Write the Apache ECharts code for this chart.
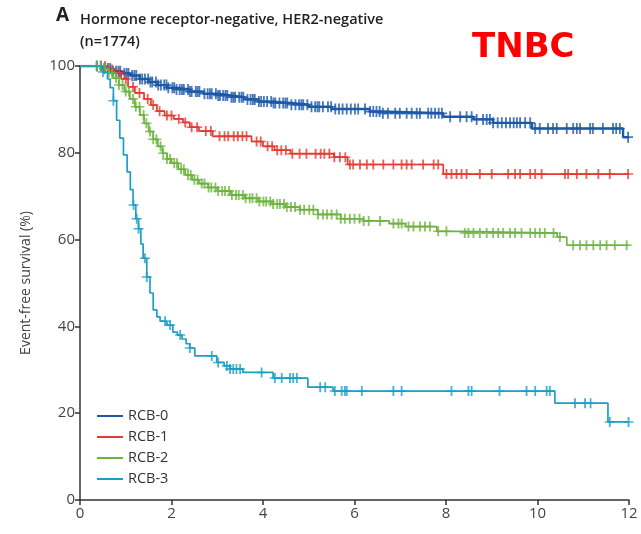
<!DOCTYPE html>
<html>
<head>
<meta charset="utf-8">
<script src="https://cdn.jsdelivr.net/npm/echarts@6/dist/echarts.min.js"></script>
<style>
  html, body { margin: 0; padding: 0; background: #fff; }
  #km { width: 641px; height: 534px; }
</style>
</head>
<body>
<div id="km"></div>
<script>
// group names + colours
var groups = ['RCB-0', 'RCB-1', 'RCB-2', 'RCB-3'];
var colors = ['#1b59a8', '#e53a2f', '#6cb33f', '#1c9fc6'];

// step curves [years, survival %]
var rcb0Curve = [[0,100],[0.35,100],[0.5,99.4],[0.7,98.8],[0.9,98.3],[1.1,97.8],[1.3,97.0],[1.5,96.3],[1.7,95.6],[1.9,95.0],
  [2.1,94.6],[2.4,94.1],[2.7,93.6],[3.0,93.2],[3.3,92.8],[3.6,92.3],[3.9,91.8],[4.2,91.5],[4.6,91.1],[5.0,90.6],[5.5,90.1],
  [6.34,89.5],[6.56,89.1],[7.94,88.3],[8.6,87.7],[9.03,86.9],[9.88,85.6],[11.87,83.6],[12,83.6]];
var rcb1Curve = [[0,100],[0.45,100],[0.6,99.2],[0.75,98.4],[0.9,97.0],[1.05,95.2],[1.2,93.8],[1.4,92.4],[1.55,91.0],[1.68,89.6],
  [1.85,88.6],[2.05,87.8],[2.25,87.0],[2.4,85.9],[2.6,85.0],[2.9,83.8],[3.75,82.6],[4.0,81.5],[4.25,80.6],[4.6,79.8],[5.55,79.0],
  [5.85,77.3],[7.94,75.1],[12,75.1]];
var rcb2Curve = [[0,100],[0.4,100],[0.5,99.3],[0.6,98.5],[0.73,97.2],[0.85,95.6],[0.97,94.1],[1.09,92.4],[1.2,90.6],[1.31,88.7],
  [1.4,86.8],[1.5,84.9],[1.6,83.1],[1.7,81.5],[1.8,79.9],[1.9,78.6],[2.0,77.6],[2.15,76.2],[2.3,74.9],[2.45,73.8],[2.6,72.9],
  [2.8,72.0],[3.0,71.2],[3.3,70.3],[3.6,69.5],[3.9,68.8],[4.2,68.2],[4.5,67.5],[4.8,66.9],[5.2,65.8],[5.7,64.8],[6.2,64.3],
  [6.76,63.7],[7.12,63.0],[7.8,61.9],[8.37,61.5],[10.43,60.6],[10.64,58.7],[12,58.7]];
var rcb3Curve = [[0,100],[0.4,100],[0.5,98.6],[0.6,97],[0.66,95],[0.73,92],[0.8,87.5],[0.87,83.4],[0.95,79.5],[1.03,75.6],
  [1.1,71.5],[1.16,68],[1.22,64.8],[1.28,62.5],[1.33,59],[1.38,55.7],[1.46,51.4],[1.53,47.7],[1.6,43.8],[1.68,42.2],[1.75,41.2],
  [1.9,40.3],[2.03,38.7],[2.13,38.0],[2.23,37.1],[2.32,36.0],[2.4,35.0],[2.51,33.2],[2.9,33.2],[2.99,31.7],[3.15,30.9],
  [3.28,30.2],[3.56,29.4],[4.22,28.1],[4.98,26.0],[5.53,25.1],[10.38,22.3],[11.54,18.0],[12,18.0]];

// censoring times (years)
var rcb0Censor = [0.37,0.46,0.53,0.61,0.66,0.72,0.79,0.84,0.88,0.97,1.02,1.06,1.14,1.19,1.23,1.31,1.36,1.42,1.49,1.54,1.58,
  1.66,1.71,1.77,1.84,1.89,1.93,2.02,2.06,2.11,2.18,2.23,2.27,2.36,2.4,2.44,2.53,2.57,2.61,2.72,2.79,2.84,2.88,2.97,3.02,
  3.06,3.13,3.18,3.22,3.31,3.35,3.39,3.48,3.53,3.57,3.66,3.73,3.78,3.82,3.91,3.96,4.02,4.09,4.18,4.23,4.27,4.36,4.44,4.49,
  4.53,4.62,4.71,4.79,4.84,4.88,4.97,5.06,5.14,5.19,5.23,5.31,5.42,5.49,5.58,5.66,5.74,5.83,5.92,6.01,6.08,6.23,6.34,
  6.41,6.48,6.55,6.62,6.73,6.89,6.99,7.14,7.25,7.36,7.43,7.61,7.68,7.76,7.84,7.91,8.09,8.31,8.45,8.56,8.67,8.81,8.89,8.96,
  9.03,9.13,9.22,9.31,9.4,9.48,9.55,9.62,9.73,9.84,9.95,10.05,10.23,10.34,10.42,10.64,10.78,10.86,10.93,11.15,11.21,11.43,
  11.65,11.72,11.8,11.98];
var rcb1Censor = [0.55,0.7,0.86,1.0,1.16,1.3,1.48,1.6,1.74,1.9,2.0,2.16,2.3,2.44,2.56,2.75,2.86,3.05,3.16,3.24,3.36,3.45,3.55,
  3.64,3.86,3.95,4.1,4.2,4.31,4.4,4.5,4.64,4.8,4.95,5.15,5.26,5.34,5.45,5.56,5.68,5.8,5.9,5.97,6.12,6.27,6.41,6.63,6.85,
  7.03,7.14,7.25,7.5,7.73,7.83,8.01,8.12,8.23,8.34,8.45,8.74,9.0,9.36,9.51,9.62,9.84,9.95,10.09,10.6,10.67,10.86,11.07,
  11.33,11.58,11.98];
var rcb2Censor = [0.36,0.45,0.54,0.63,0.7,0.79,0.85,0.93,1.0,1.07,1.16,1.22,1.3,1.39,1.45,1.53,1.6,1.67,1.76,1.82,1.9,1.97,
  2.06,2.12,2.21,2.27,2.36,2.42,2.5,2.57,2.66,2.72,2.81,2.87,2.96,3.02,3.11,3.17,3.26,3.32,3.41,3.47,3.56,3.62,3.71,3.77,
  3.86,3.92,4.01,4.07,4.16,4.22,4.31,4.37,4.46,4.52,4.61,4.7,4.81,4.9,5.01,5.1,5.2,5.31,5.4,5.5,5.61,5.7,5.79,5.9,6.0,
  6.11,6.2,6.31,6.56,6.85,6.96,7.03,7.18,7.29,7.43,7.54,7.65,7.83,8.01,8.41,8.49,8.6,8.74,8.89,9.03,9.14,9.25,9.4,9.51,
  9.65,9.84,9.95,10.05,10.16,10.35,10.49,10.78,10.93,11.07,11.22,11.37,11.51,11.69,11.95];
var rcb3Censor = [0.5,0.73,1.17,1.24,1.28,1.42,1.46,1.86,1.97,2.19,2.4,2.88,3.02,3.21,3.28,3.35,3.42,3.5,3.97,4.26,4.41,
  4.59,4.66,4.74,5.25,5.36,5.57,5.72,5.79,5.83,6.16,6.85,7.03,8.12,8.49,8.56,9.17,9.76,9.95,10.2,10.27,10.82,11.04,11.16,
  11.58,11.99];

// axis ticks
var xTicks = [0, 2, 4, 6, 8, 10, 12];
var yTicks = [0, 20, 40, 60, 80, 100];

var curves = [rcb0Curve, rcb1Curve, rcb2Curve, rcb3Curve];
var censors = [rcb0Censor, rcb1Censor, rcb2Censor, rcb3Censor];
var lineWidths = [2.4, 1.7, 1.7, 1.7];

// KM value at time t (step function)
function survAt(curve, t) {
  var y = curve[0][1];
  for (var i = 0; i < curve.length; i++) {
    if (curve[i][0] <= t) y = curve[i][1];
    else break;
  }
  return y;
}

var crossPath = 'path://M-1.1,-6H1.1V-0.9H6V0.9H1.1V6H-1.1V0.9H-6V-0.9H-1.1Z';

var series = [];
groups.forEach(function (name, i) {
  series.push({
    name: name,
    type: 'line',
    step: 'end',
    symbol: 'none',
    data: curves[i],
    lineStyle: { color: colors[i], width: lineWidths[i] },
    itemStyle: { color: colors[i] },
    z: 3 + i
  });
});
groups.forEach(function (name, i) {
  series.push({
    name: name + ' censored',
    type: 'scatter',
    symbol: crossPath,
    symbolSize: i === 0 ? [10, 11] : [10, 10],
    data: censors[i].map(function (t) { return [t, survAt(curves[i], t)]; }),
    itemStyle: { color: colors[i] },
    silent: true,
    z: 3 + i
  });
});

var myChart = echarts.init(document.getElementById('km'));
var option = {
  animation: false,
  textStyle: { fontFamily: 'Open Sans' },
  title: [
    { text: 'A', left: 51, top: 1, textStyle: { fontSize: 19, fontWeight: 'bold', color: '#222' } },
    { text: 'Hormone receptor-negative, HER2-negative\n(n=1774)', left: 75, top: 4,
      textStyle: { fontSize: 14.5, fontWeight: 600, color: '#222', lineHeight: 22 } },
    { text: 'TNBC', left: 467, top: 26,
      textStyle: { fontSize: 34, fontWeight: 'bold', color: '#ff0000', fontFamily: 'DejaVu Sans' } }
  ],
  legend: {
    data: groups.map(function (g) { return { name: g, icon: 'rect' }; }),
    orient: 'vertical',
    left: 92,
    top: 401,
    itemWidth: 26,
    itemHeight: 2,
    itemGap: 1,
    textStyle: { fontSize: 14.5, color: '#333', lineHeight: 20 }
  },
  grid: { left: 80, right: 12, top: 66, bottom: 34 },
  xAxis: {
    type: 'value',
    min: 0,
    max: 12,
    interval: 2,
    splitLine: { show: false },
    axisLine: { lineStyle: { color: '#333', width: 1.5 } },
    axisTick: { show: true, length: 5, lineStyle: { color: '#333', width: 1.5 } },
    axisLabel: { fontSize: 15, color: '#444', margin: 6 }
  },
  yAxis: {
    type: 'value',
    min: 0,
    max: 100,
    interval: 20,
    name: 'Event-free survival (%)',
    nameLocation: 'middle',
    nameGap: 47,
    nameTextStyle: { fontSize: 14, color: '#444' },
    splitLine: { show: false },
    axisLine: { show: true, lineStyle: { color: '#333', width: 1.5 } },
    axisTick: { show: true, length: 5, lineStyle: { color: '#333', width: 1.5 } },
    axisLabel: { fontSize: 15, color: '#444', margin: 5 }
  },
  series: series
};
myChart.setOption(option);
window.addEventListener('resize', function () { myChart.resize(); });
</script>
</body>
</html>
